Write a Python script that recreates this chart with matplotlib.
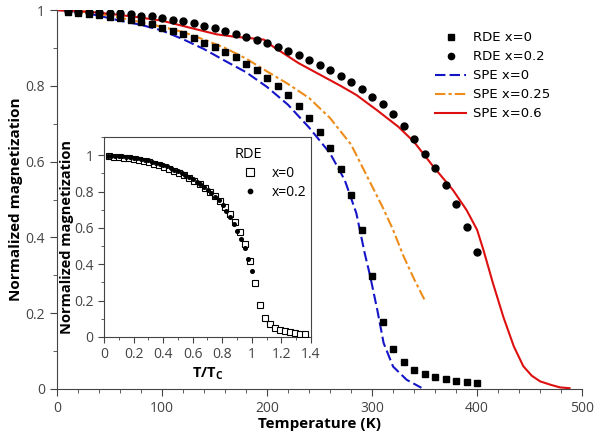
import numpy as np
import matplotlib
matplotlib.use('Agg')
import matplotlib.pyplot as plt
from matplotlib.ticker import MultipleLocator, FuncFormatter

# RDE data (temperature in K, normalized magnetization)
rde_temp = [10, 20, 30, 40, 50, 60, 70, 80, 90, 100,
            110, 120, 130, 140, 150, 160, 170, 180, 190, 200,
            210, 220, 230, 240, 250, 260, 270, 280, 290, 300,
            310, 320, 330, 340, 350, 360, 370, 380, 390, 400]
rde_x0 = [0.995, 0.991, 0.989, 0.987, 0.982, 0.978, 0.974, 0.969, 0.962, 0.952,
          0.945, 0.936, 0.925, 0.914, 0.903, 0.890, 0.875, 0.858, 0.842, 0.822,
          0.799, 0.775, 0.748, 0.715, 0.679, 0.635, 0.580, 0.512, 0.420, 0.299,
          0.178, 0.106, 0.070, 0.051, 0.039, 0.032, 0.026, 0.021, 0.018, 0.015]
rde_x02 = [0.997, 0.995, 0.995, 0.994, 0.993, 0.991, 0.989, 0.985, 0.984, 0.980,
           0.975, 0.972, 0.965, 0.959, 0.953, 0.945, 0.938, 0.930, 0.921, 0.912,
           0.903, 0.893, 0.881, 0.868, 0.855, 0.842, 0.827, 0.811, 0.791, 0.771,
           0.751, 0.726, 0.695, 0.660, 0.621, 0.582, 0.537, 0.487, 0.427, 0.361]

# Curie temperatures used for the inset (T/Tc)
tc_x0 = 294
tc_x02 = 399

# SPE curves
spe0_temp = [0, 20, 40, 60, 80, 100, 120, 140, 160, 180, 200, 220, 240, 260, 274,
             285, 293, 298, 305, 311, 320, 333, 347]
spe0_mag = [1.0, 0.996, 0.985, 0.972, 0.961, 0.946, 0.923, 0.897, 0.866, 0.836, 0.797,
            0.750, 0.690, 0.622, 0.551, 0.464, 0.358, 0.300, 0.208, 0.121, 0.059, 0.024, 0.003]

spe25_temp = [0, 20, 40, 60, 80, 100, 120, 140, 160, 180, 200, 220, 240, 260, 280,
              290, 300, 310, 320, 330, 340, 350]
spe25_mag = [1.0, 0.997, 0.990, 0.980, 0.968, 0.956, 0.942, 0.922, 0.900, 0.872, 0.838,
             0.805, 0.768, 0.715, 0.645, 0.590, 0.535, 0.480, 0.420, 0.350, 0.290, 0.235]

spe6_temp = [0, 20, 40, 60, 80, 100, 120, 133, 152, 168, 187, 197, 205, 215, 230, 250,
             270, 285, 305, 325, 340, 358, 377, 390, 400, 406, 415, 425, 435, 444,
             452, 460, 470, 479, 488]
spe6_mag = [1.0, 0.998, 0.993, 0.987, 0.980, 0.972, 0.958, 0.949, 0.936, 0.930, 0.925,
            0.922, 0.905, 0.887, 0.860, 0.830, 0.800, 0.776, 0.735, 0.692, 0.652, 0.588,
            0.525, 0.472, 0.420, 0.367, 0.280, 0.190, 0.112, 0.060, 0.035, 0.020,
            0.011, 0.004, 0.002]

plt.rcParams['font.family'] = ['Open Sans', 'DejaVu Sans']
tick_color = '#444444'

fig = plt.figure(figsize=(5.94, 4.38), dpi=100)
ax = fig.add_axes([0.096, 0.112, 0.884, 0.865])

ax.plot(rde_temp, rde_x0, 's', color='black', ms=4.8, label='RDE x=0', zorder=3)
ax.plot(rde_temp, rde_x02, 'o', color='black', ms=5, label='RDE x=0.2', zorder=4)
ax.plot(spe0_temp, spe0_mag, color='#1515c8', lw=1.5, dashes=(5, 2), label='SPE x=0')
ax.plot(spe25_temp, spe25_mag, color='#ee8c1a', lw=1.5, dashes=(5, 1.5, 1.5, 1.5),
        label='SPE x=0.25')
ax.plot(spe6_temp, spe6_mag, color='#dd1010', lw=1.5, label='SPE x=0.6')

ax.set_xlim(0, 500)
ax.set_ylim(0, 1)
ax.xaxis.set_major_locator(MultipleLocator(100))
ax.xaxis.set_minor_locator(MultipleLocator(20))
ax.yaxis.set_major_locator(MultipleLocator(0.2))
ax.yaxis.set_minor_locator(MultipleLocator(0.1))
fmt = FuncFormatter(lambda v, p: '%g' % round(v, 2))
ax.yaxis.set_major_formatter(fmt)
for s in ['top', 'right']:
    ax.spines[s].set_visible(False)
for s in ['left', 'bottom']:
    ax.spines[s].set_color(tick_color)
ax.tick_params(which='both', colors=tick_color, labelsize=10)
ax.tick_params(which='major', length=5)
ax.tick_params(which='minor', length=3)
ax.set_xlabel('Temperature (K)', fontsize=11, fontweight='bold', labelpad=1)
ax.set_ylabel('Normalized magnetization', fontsize=11, fontweight='bold', labelpad=2)

leg = ax.legend(loc='upper right', bbox_to_anchor=(0.962, 0.975), frameon=False,
                prop={'family': 'DejaVu Sans', 'size': 9.5}, handlelength=2.4,
                handletextpad=0.5, labelspacing=0.45, markerscale=0.9)

# Inset: magnetization against T/Tc
ins = fig.add_axes([0.175, 0.2306, 0.3485, 0.4566])
ins.plot(np.array(rde_temp) / tc_x0, rde_x0, 's', mfc='white', mec='black', mew=0.8,
         ms=4.5, label='x=0', zorder=3)
ins.plot(np.array(rde_temp) / tc_x02, rde_x02, 'o', color='black', ms=2.6,
         label='x=0.2', zorder=4)
ins.set_xlim(0, 1.4)
ins.set_ylim(0, 1.1)
ins.xaxis.set_major_locator(MultipleLocator(0.2))
ins.xaxis.set_minor_locator(MultipleLocator(0.1))
ins.yaxis.set_major_locator(MultipleLocator(0.2))
ins.yaxis.set_minor_locator(MultipleLocator(0.1))
ins.xaxis.set_major_formatter(fmt)
ins.yaxis.set_major_formatter(fmt)
for s in ins.spines.values():
    s.set_color(tick_color)
ins.tick_params(which='both', colors=tick_color, labelsize=10)
ins.tick_params(which='major', length=4)
ins.tick_params(which='minor', length=2.5)
ins.set_xlabel('T/T$_\\mathregular{C}$', fontsize=10.5, fontweight='bold', labelpad=2)
ins.set_ylabel('Normalized magnetization', fontsize=10.5, fontweight='bold', labelpad=0)
ins.legend(loc='upper right', bbox_to_anchor=(1.025, 1.0), title='RDE', frameon=False,
           fontsize=10, title_fontsize=10.5, handlelength=2.16, handletextpad=0.5,
           borderaxespad=0.3, labelspacing=0.3, alignment='left', markerscale=1.2)

fig.savefig('out.png', dpi=100)
